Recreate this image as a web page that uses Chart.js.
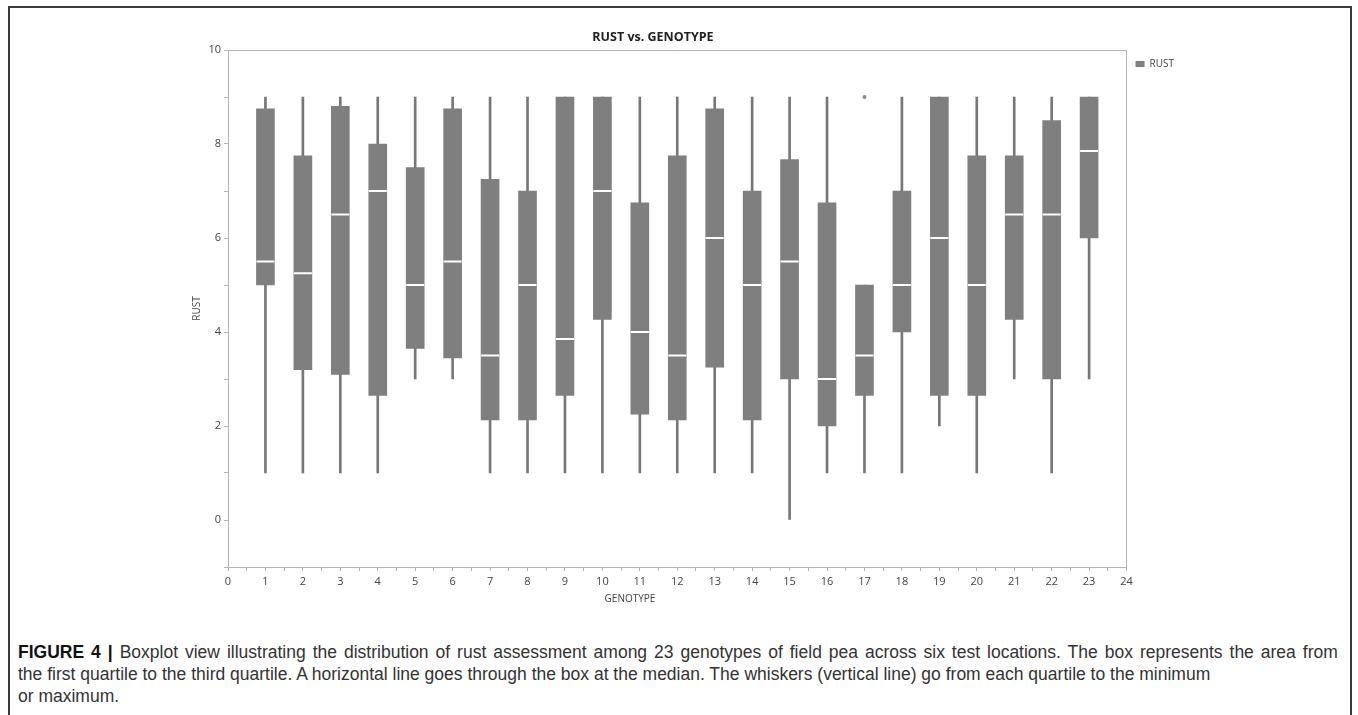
<!DOCTYPE html>
<html>
<head>
<meta charset="utf-8">
<script src="https://cdn.jsdelivr.net/npm/chart.js@4.4.1/dist/chart.umd.min.js"></script>
<style>
    body { margin: 0; background: #fff; width: 1358px; height: 715px; overflow: hidden; position: relative; }
    .frame { position: absolute; left: 8px; top: 6px; width: 1344px; height: 760px; border: 2px solid #3a3a3a; box-sizing: border-box; }
    #chartWrap { position: absolute; left: 0; top: 0; width: 1358px; height: 610px; }
    .chart-title { position: absolute; top: 28px; left: 553px; width: 200px; text-align: center; font: bold 12.5px "Open Sans", sans-serif; color: #222; }
    .x-title { position: absolute; top: 591px; left: 580px; width: 100px; text-align: center; font: 10px "Open Sans", sans-serif; color: #444; }
    .caption { position: absolute; left: 18px; top: 641px; font-family: "Liberation Sans", Arial, sans-serif; font-size: 17.5px; line-height: 22px; color: #333; white-space: nowrap; }
    .caption b { color: #111; }
    .caption .first { word-spacing: 2.1px; }
</style>
</head>
<body>
<div class="frame"></div>
<div id="chartWrap"><canvas id="rustChart"></canvas></div>
<div class="chart-title">RUST vs. GENOTYPE</div>
<div class="x-title">GENOTYPE</div>
<div class="caption">
    <span class="first"><b>FIGURE 4 |</b> Boxplot view illustrating the distribution of rust assessment among 23 genotypes of field pea across six test locations. The box represents the area from</span><br>
    the first quartile to the third quartile. A horizontal line goes through the box at the median. The whiskers (vertical line) go from each quartile to the minimum<br>
    or maximum.
</div>

<script>
const genotypes = [1, 2, 3, 4, 5, 6, 7, 8, 9, 10, 11, 12, 13, 14, 15, 16, 17, 18, 19, 20, 21, 22, 23];
const minValues = [1, 1, 1, 1, 3, 3, 1, 1, 1, 1, 1, 1, 1, 1, 0, 1, 1, 1, 2, 1, 3, 1, 3];
const q1Values = [5, 3.2, 3.1, 2.65, 3.65, 3.45, 2.13, 2.13, 2.65, 4.27, 2.25, 2.13, 3.25, 2.13, 3, 2, 2.65, 4, 2.65, 2.65, 4.27, 3, 6];
const medianValues = [5.5, 5.25, 6.5, 7, 5, 5.5, 3.5, 5, 3.85, 7, 4, 3.5, 6, 5, 5.5, 3, 3.5, 5, 6, 5, 6.5, 6.5, 7.85];
const q3Values = [8.75, 7.75, 8.8, 8, 7.5, 8.75, 7.25, 7, 9, 9, 6.75, 7.75, 8.75, 7, 7.67, 6.75, 5, 7, 9, 7.75, 7.75, 8.5, 9];
const maxValues = [9, 9, 9, 9, 9, 9, 9, 9, 9, 9, 9, 9, 9, 9, 9, 9, 5, 9, 9, 9, 9, 9, 9];
const outlierGenotypes = [17];
const outlierValues = [9];

const boxGray = '#7f7f7f';
const axisGray = '#b4b4b4';
const tickFont = { family: 'Open Sans', size: 11 };
const labelFont = { family: 'Open Sans', size: 10 };

const boxes = genotypes.map((g, i) => ({ x: g, y: [q1Values[i], q3Values[i]] }));
const whiskers = genotypes.map((g, i) => ({ x: g, y: [minValues[i], maxValues[i]] }));
const medians = genotypes.map((g, i) => ({ x: g, y: medianValues[i] }));
const outliers = outlierGenotypes.map((g, i) => ({ x: g, y: outlierValues[i] }));

new Chart(document.getElementById('rustChart'), {
    type: 'bar',
    data: {
        datasets: [
            {
                type: 'scatter',
                label: 'median',
                data: medians,
                pointStyle: 'line',
                radius: 9,
                borderWidth: 2,
                borderColor: '#ffffff',
                order: 0
            },
            {
                type: 'scatter',
                label: 'outlier',
                data: outliers,
                pointStyle: 'circle',
                radius: 2,
                borderWidth: 0,
                backgroundColor: '#8a8a8a',
                order: 1
            },
            {
                label: 'RUST',
                data: boxes,
                backgroundColor: boxGray,
                barThickness: 18,
                grouped: false,
                borderSkipped: false,
                order: 2
            },
            {
                label: 'whisker',
                data: whiskers,
                backgroundColor: '#777777',
                barThickness: 2,
                grouped: false,
                borderSkipped: false,
                order: 3
            }
        ]
    },
    options: {
        responsive: true,
        maintainAspectRatio: false,
        animation: false,
        events: [],
        layout: {
            padding: { top: 50, left: 187, right: 174, bottom: 13 }
        },
        plugins: {
            title: { display: false },
            tooltip: { enabled: false },
            legend: {
                position: 'right',
                align: 'start',
                fullSize: false,
                labels: {
                    filter: item => item.text === 'RUST',
                    boxWidth: 9,
                    boxHeight: 6,
                    padding: 9,
                    color: '#444',
                    font: labelFont
                }
            }
        },
        scales: {
            x: {
                type: 'linear',
                min: 0,
                max: 24,
                offset: false,
                grid: { offset: false, drawOnChartArea: false, tickLength: 4, color: axisGray },
                border: { color: axisGray },
                ticks: {
                    stepSize: 0.5,
                    autoSkip: false,
                    maxRotation: 0,
                    padding: 4,
                    color: '#444',
                    font: tickFont,
                    callback: value => Number.isInteger(value) ? value : ''
                },
                afterFit: scale => { scale.height = 30; }
            },
            y: {
                min: -1,
                max: 10,
                grid: { drawOnChartArea: false, tickLength: 4, color: axisGray },
                border: { color: axisGray },
                ticks: {
                    stepSize: 1,
                    padding: 3,
                    color: '#444',
                    font: tickFont,
                    callback: value => (value >= 0 && value % 2 === 0) ? value : ''
                },
                title: {
                    display: true,
                    text: 'RUST',
                    color: '#444',
                    font: labelFont,
                    padding: 4
                },
                afterFit: scale => { scale.width = 41; }
            },
            xTop: {
                type: 'linear',
                position: 'top',
                grid: { display: false },
                border: { color: axisGray },
                ticks: { display: false },
                afterFit: scale => { scale.height = 0; }
            },
            yRight: {
                type: 'linear',
                position: 'right',
                grid: { display: false },
                border: { color: axisGray },
                ticks: { display: false },
                afterFit: scale => { scale.width = 0; }
            }
        }
    }
});
</script>
</body>
</html>
